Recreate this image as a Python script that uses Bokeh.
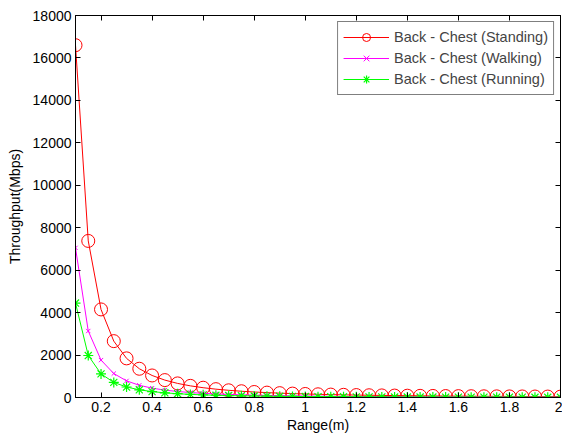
from bokeh.plotting import figure
from bokeh.models import Range1d, LinearAxis, FixedTicker, Legend, LegendItem
from bokeh.embed import file_html
from bokeh.resources import INLINE

range_m = [0.1, 0.15, 0.2, 0.25, 0.3, 0.35, 0.4, 0.45, 0.5, 0.55, 0.6, 0.65, 0.7,
           0.75, 0.8, 0.85, 0.9, 0.95, 1.0, 1.05, 1.1, 1.15, 1.2, 1.25, 1.3, 1.35,
           1.4, 1.45, 1.5, 1.55, 1.6, 1.65, 1.7, 1.75, 1.8, 1.85, 1.9, 1.95, 2.0]
standing = [16600, 7378, 4150, 2656, 1844, 1355, 1038, 820, 664, 549, 461, 393, 339,
            295, 259, 230, 205, 184, 166, 151, 137, 126, 115, 106, 98, 91,
            85, 79, 74, 69, 65, 61, 57, 54, 51, 49, 46, 44, 42]
walking = [7050, 3133, 1763, 1128, 783, 576, 441, 348, 282, 233, 196, 167, 144,
           125, 110, 98, 87, 78, 71, 64, 58, 53, 49, 45, 42, 39,
           36, 34, 31, 29, 28, 26, 24, 23, 22, 21, 20, 19, 18]
running = [4450, 1978, 1113, 712, 494, 363, 278, 220, 178, 147, 124, 105, 91,
           79, 70, 62, 55, 49, 45, 40, 37, 34, 31, 28, 26, 24,
           23, 21, 20, 19, 17, 16, 15, 15, 14, 13, 12, 12, 11]
labels = ["Back - Chest (Standing)", "Back - Chest (Walking)", "Back - Chest (Running)"]
x_ticks = [0.2, 0.4, 0.6, 0.8, 1.0, 1.2, 1.4, 1.6, 1.8, 2.0]
y_ticks = [0, 2000, 4000, 6000, 8000, 10000, 12000, 14000, 16000, 18000]

FONT = "Liberation Sans"

p = figure(width=562, height=435, output_backend="svg", toolbar_location=None,
           x_range=Range1d(0.1, 2.0), y_range=Range1d(0, 18000),
           min_border_left=75, min_border_right=2, min_border_top=15, min_border_bottom=38)
p.xgrid.visible = False
p.ygrid.visible = False
p.outline_line_color = "black"
p.outline_line_width = 1
p.background_fill_color = "white"
p.border_fill_color = "white"

for ax in (p.xaxis[0], p.yaxis[0]):
    ax.major_tick_in = 5
    ax.major_tick_out = 0
    ax.minor_tick_in = 0
    ax.minor_tick_out = 0
    ax.axis_line_color = "black"
    ax.major_label_text_font = FONT
    ax.major_label_text_font_size = "14px"
    ax.major_label_text_color = "black"
    ax.axis_label_text_font = FONT
    ax.axis_label_text_font_size = "14px"
    ax.axis_label_text_font_style = "normal"
    ax.axis_label_text_color = "black"

p.xaxis.ticker = FixedTicker(ticks=x_ticks)
p.yaxis.ticker = FixedTicker(ticks=y_ticks)
p.xaxis.major_label_overrides = {2.0: "2", 1.0: "1"}
p.xaxis.axis_label = "Range(m)"
p.yaxis.axis_label = "Throughput(Mbps)"
p.xaxis.axis_label_standoff = 2
p.yaxis.axis_label_standoff = 7
p.xaxis.major_label_standoff = 4
p.yaxis.major_label_standoff = 4

top = LinearAxis(ticker=FixedTicker(ticks=x_ticks),
                 major_label_overrides={t: "" for t in x_ticks},
                 major_label_standoff=0,
                 major_tick_in=5, major_tick_out=0, minor_tick_in=0, minor_tick_out=0)
right = LinearAxis(ticker=FixedTicker(ticks=y_ticks),
                   major_label_overrides={t: "" for t in y_ticks},
                   major_label_standoff=0,
                   major_tick_in=5, major_tick_out=0, minor_tick_in=0, minor_tick_out=0)
p.add_layout(top, "above")
p.add_layout(right, "right")

l1 = p.line(range_m, standing, line_color="red", line_width=1)
m1 = p.scatter(range_m, standing, marker="circle", size=13, fill_color=None,
               line_color="red", line_width=1)
l2 = p.line(range_m, walking, line_color="magenta", line_width=1)
m2 = p.scatter(range_m, walking, marker="x", size=6, line_color="magenta", line_width=1)
l3 = p.line(range_m, running, line_color="lime", line_width=1)
m3 = p.scatter(range_m, running, marker="asterisk", size=10, line_color="lime", line_width=1.2)

legend = Legend(items=[LegendItem(label=labels[0], renderers=[l1, m1]),
                       LegendItem(label=labels[1], renderers=[l2, m2]),
                       LegendItem(label=labels[2], renderers=[l3, m3])],
                location="top_right")
legend.border_line_color = "black"
legend.border_line_width = 1
legend.label_text_font = FONT
legend.label_text_font_size = "14.5px"
legend.glyph_width = 46
legend.glyph_height = 20
legend.label_height = 20
legend.spacing = 1
legend.padding = 5
legend.margin = 6
legend.label_standoff = 5
p.add_layout(legend, "center")

open("out.html", "w").write(file_html(p, INLINE))
